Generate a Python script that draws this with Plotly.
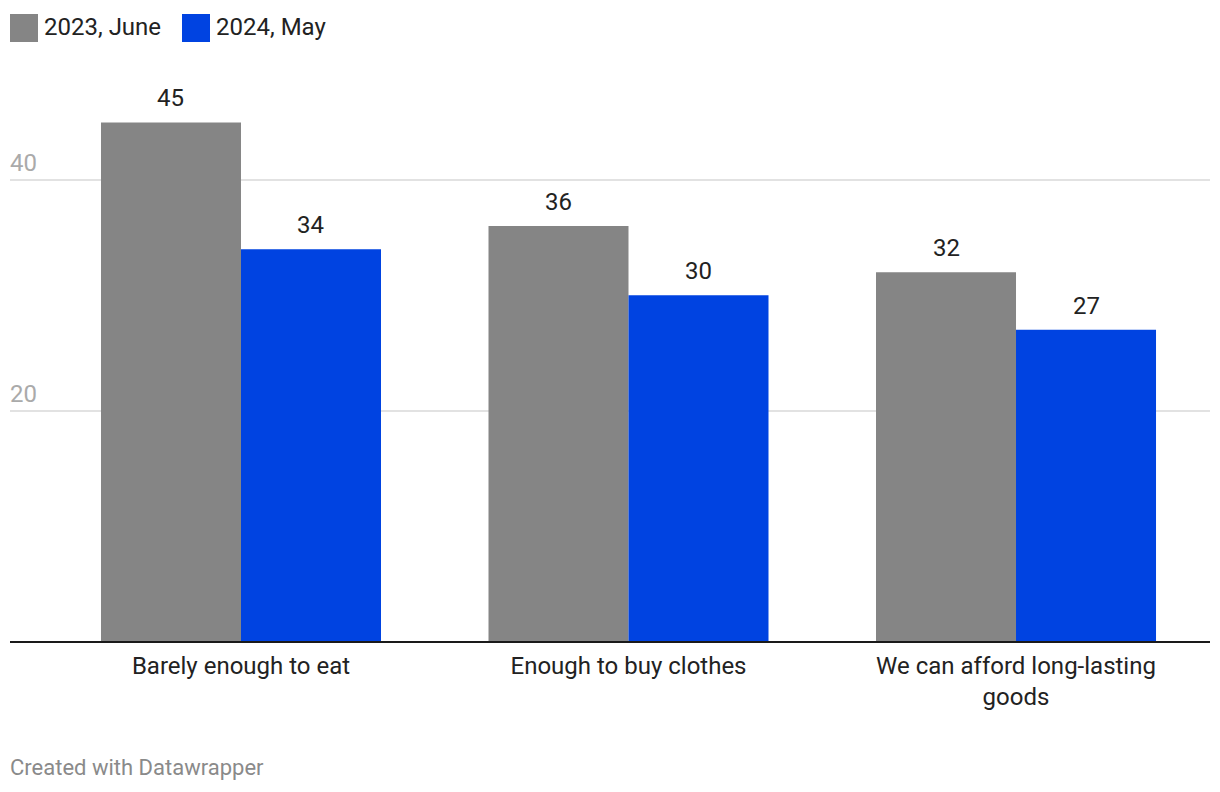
import plotly.graph_objects as go

categories = ["Barely enough to eat", "Enough to buy clothes", "We can afford long-lasting<br>goods"]
series_names = ["2023, June", "2024, May"]
values_2023 = [45, 36, 32]
values_2024 = [34, 30, 27]
y_ticks = [20, 40]
colors = ["#858585", "#0043e1"]

FONT = "Roboto"
fig = go.Figure()
for name, vals, col in zip(series_names, [values_2023, values_2024], colors):
    fig.add_trace(go.Bar(x=categories, y=vals, name=name, marker=dict(color=col, line=dict(width=0)),
                         showlegend=False, hoverinfo="skip"))

annotations = []
# value labels
for shift, vals in zip([-70, 70], [values_2023, values_2024]):
    for c, v in zip(categories, vals):
        annotations.append(dict(x=c, y=v, xref="x", yref="y", text=str(v), showarrow=False,
                                xshift=shift, yshift=8, yanchor="bottom",
                                font=dict(family=FONT, size=24, color="#222222")))
# y tick labels
for t in y_ticks:
    annotations.append(dict(x=0, y=t, xref="paper", yref="y", text=str(t), showarrow=False,
                            xanchor="left", yanchor="bottom", yshift=1, xshift=-2,
                            font=dict(family=FONT, size=24, color="#aaaaaa")))
# legend
shapes = []
leg_x = [10, 182]
for name, col, lx in zip(series_names, colors, leg_x):
    shapes.append(dict(type="rect", xref="paper", yref="paper",
                       x0=(lx - 10) / 1200, x1=(lx + 18) / 1200,
                       y0=(641 - 42) / 561, y1=(641 - 14) / 561,
                       fillcolor=col, line=dict(width=0)))
    annotations.append(dict(x=(lx + 22) / 1200, y=(641 - 27) / 561, xref="paper", yref="paper",
                            text=name, showarrow=False, xanchor="left", yanchor="middle",
                            font=dict(family=FONT, size=24, color="#222222")))
annotations.append(dict(x=0, y=(641 - 767) / 561, xref="paper", yref="paper",
                        text="Created with Datawrapper", showarrow=False, xanchor="left", yanchor="middle",
                        xshift=-2, font=dict(family=FONT, size=22, color="#8a8a8a")))

fig.update_layout(
    width=1220, height=792, autosize=False,
    margin=dict(l=10, r=10, t=80, b=151),
    paper_bgcolor="white", plot_bgcolor="white",
    barmode="group", bargap=0.2774, bargroupgap=0,
    font=dict(family=FONT, size=24, color="#222222"),
    annotations=annotations, shapes=shapes,
)
fig.update_xaxes(range=[-0.5961, 2.5006], showline=True, linecolor="#1a1a1a", linewidth=2,
                 ticks="outside", ticklen=2, tickcolor="white", showgrid=False,
                 tickfont=dict(family=FONT, size=24, color="#222222"), fixedrange=True)
fig.update_yaxes(range=[0, (641 - 80) / 11.525], tickvals=y_ticks, showticklabels=False,
                 showgrid=True, gridcolor="#e2e2e2", gridwidth=1.5, zeroline=False, fixedrange=True)

fig.write_html("out.html", config={"displayModeBar": False})
